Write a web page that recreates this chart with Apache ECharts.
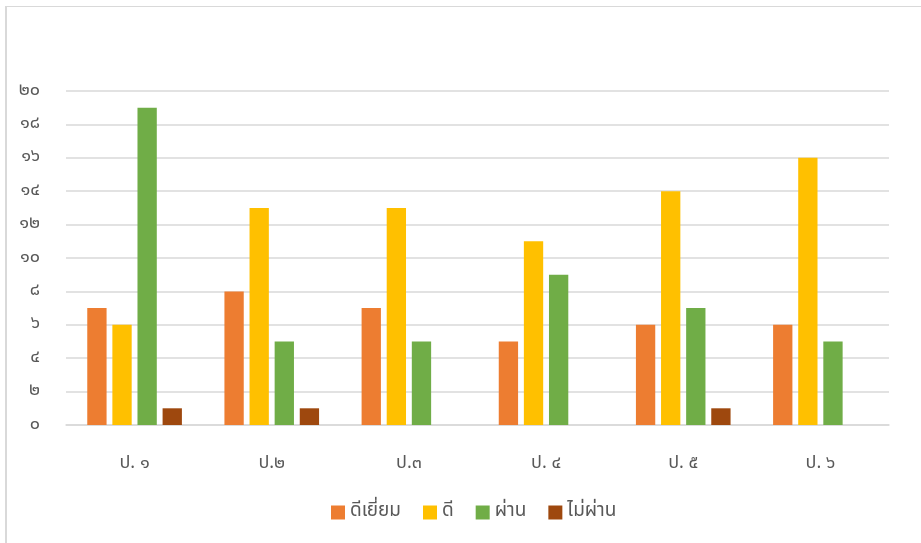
<!DOCTYPE html>
<html><head><meta charset="utf-8">
<script src="https://cdn.jsdelivr.net/npm/echarts@6/dist/echarts.min.js"></script>
<style>
html,body{margin:0;padding:0;background:#fff;}
#c{width:921px;height:543px;}
#frame{position:absolute;left:5px;top:6px;width:930px;height:560px;border-top:1px solid #d9d9d9;border-left:2px solid #d9d9d9;pointer-events:none;}
</style></head>
<body>
<div id="c"></div><div id="frame"></div>
<script>
const categories = ['ป. ๑','ป.๒','ป.๓','ป. ๔','ป. ๕','ป. ๖'];
const seriesNames = ['ดีเยี่ยม','ดี','ผ่าน','ไม่ผ่าน'];
const excellent = [7, 8, 7, 5, 6, 6];
const good = [6, 13, 13, 11, 14, 16];
const pass = [19, 5, 5, 9, 7, 5];
const fail = [1, 1, 0, 0, 1, 0];
const thaiDigits = ['๐','๑','๒','๓','๔','๕','๖','๗','๘','๙'];
const colors = ['#ED7D31','#FFC000','#70AD47','#9E480E'];
function toThai(n){return String(n).split('').map(d=>thaiDigits[+d]||d).join('');}
const font = 'Tahoma, "Noto Sans Thai", "Loma", "Garuda", "DejaVu Sans", sans-serif';
const chart = echarts.init(document.getElementById('c'));
const data = [excellent, good, pass, fail];
chart.setOption({
  animation:false,
  color: colors,
  textStyle:{fontFamily:font},
  grid:{left:66,right:32,top:91,bottom:118,containLabel:false},
  legend:{bottom:16,left:326,itemWidth:14,itemHeight:14,itemGap:22,icon:'rect',
    textStyle:{color:'#595959',fontSize:19,fontFamily:font}, data:seriesNames},
  xAxis:{type:'category',data:categories,
    axisLine:{lineStyle:{color:'#d9d9d9',width:1.5}},axisTick:{show:false},
    axisLabel:{color:'#595959',fontSize:18,margin:30,fontFamily:font}},
  yAxis:{type:'value',min:0,max:20,interval:2,
    axisLine:{show:false},axisTick:{show:false},
    splitLine:{lineStyle:{color:'#d9d9d9',width:1.5}},
    axisLabel:{color:'#595959',fontSize:18,margin:26,fontFamily:font,padding:[12,0,0,0],formatter:v=>toThai(v)}},
  series: seriesNames.map((n,i)=>({name:n,type:'bar',data:data[i],barGap:'30%',barCategoryGap:'31%'}))
});
</script>
</body></html>
